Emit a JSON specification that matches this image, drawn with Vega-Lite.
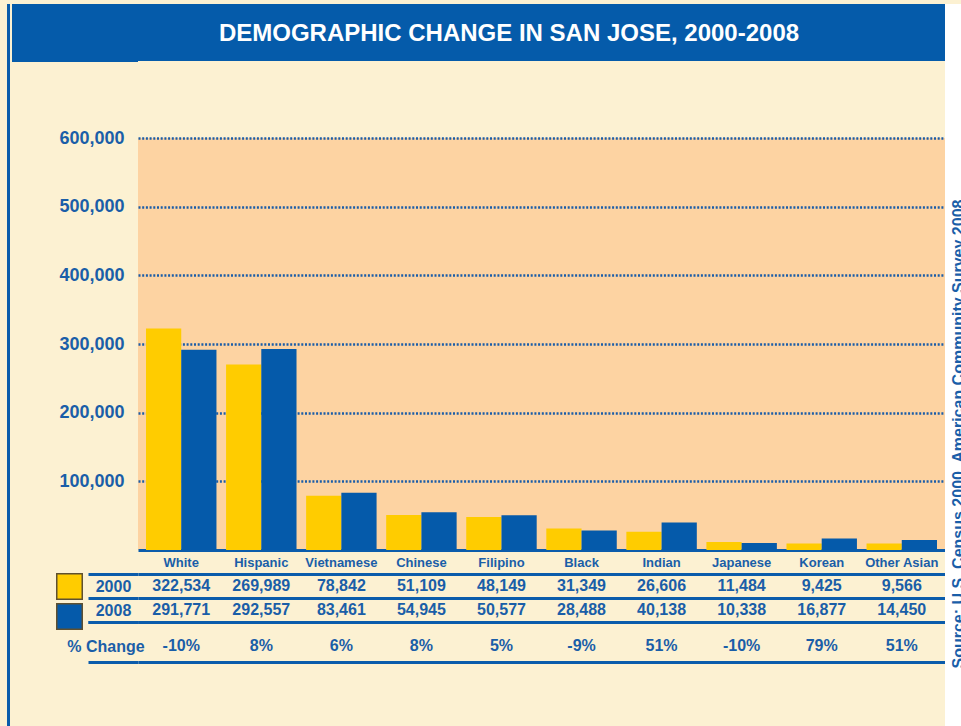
{
  "$schema": "https://vega.github.io/schema/vega-lite/v6.json",
  "background": "#FCF1D2",
  "padding": {"left": 7, "top": 4, "right": 0, "bottom": 0},
  "config": {"font": "Liberation Sans", "view": {"stroke": null}},
  "datasets": {
    "pop": [
      {"category": "White", "year": "2000", "value": 322534},
      {"category": "White", "year": "2008", "value": 291771},
      {"category": "Hispanic", "year": "2000", "value": 269989},
      {"category": "Hispanic", "year": "2008", "value": 292557},
      {"category": "Vietnamese", "year": "2000", "value": 78842},
      {"category": "Vietnamese", "year": "2008", "value": 83461},
      {"category": "Chinese", "year": "2000", "value": 51109},
      {"category": "Chinese", "year": "2008", "value": 54945},
      {"category": "Filipino", "year": "2000", "value": 48149},
      {"category": "Filipino", "year": "2008", "value": 50577},
      {"category": "Black", "year": "2000", "value": 31349},
      {"category": "Black", "year": "2008", "value": 28488},
      {"category": "Indian", "year": "2000", "value": 26606},
      {"category": "Indian", "year": "2008", "value": 40138},
      {"category": "Japanese", "year": "2000", "value": 11484},
      {"category": "Japanese", "year": "2008", "value": 10338},
      {"category": "Korean", "year": "2000", "value": 9425},
      {"category": "Korean", "year": "2008", "value": 16877},
      {"category": "Other Asian", "year": "2000", "value": 9566},
      {"category": "Other Asian", "year": "2008", "value": 14450}
    ],
    "chg": [
      {"category": "White", "pct": "-10%"},
      {"category": "Hispanic", "pct": "8%"},
      {"category": "Vietnamese", "pct": "6%"},
      {"category": "Chinese", "pct": "8%"},
      {"category": "Filipino", "pct": "5%"},
      {"category": "Black", "pct": "-9%"},
      {"category": "Indian", "pct": "51%"},
      {"category": "Japanese", "pct": "-10%"},
      {"category": "Korean", "pct": "79%"},
      {"category": "Other Asian", "pct": "51%"}
    ],
    "title": [{"t": "DEMOGRAPHIC CHANGE IN SAN JOSE, 2000-2008"}],
    "source": [{"s": "Source: U.S. Census 2000, American Community Survey 2008"}]
  },
  "spacing": 0,
  "hconcat": [
    {
      "width": 3,
      "height": 722,
      "view": {"fill": "#0A5CAA", "stroke": null},
      "data": {"values": [{"e": ""}]},
      "mark": {"type": "text"},
      "encoding": {"text": {"field": "e"}}
    },
    {
      "spacing": 67,
      "vconcat": [
        {
          "width": 807,
          "height": 57,
          "view": {"fill": "#055BAA", "stroke": null},
          "data": {"name": "title"},
          "mark": {"type": "text", "color": "white", "fontSize": 24, "fontWeight": "bold", "dx": -32.5, "dy": 1},
          "encoding": {
            "text": {"field": "t"},
            "y": {
              "field": "t", "type": "nominal",
              "scale": {"type": "point", "padding": 0.5, "domain": ["a1", "a2", "a3", "a4", "a5", "a6", "a7", "a8", "a9", "DEMOGRAPHIC CHANGE IN SAN JOSE, 2000-2008", "b1", "b2", "b3", "b4", "b5", "b6", "b7", "b8", "b9"]},
              "axis": {"title": null, "labels": false, "domain": false, "grid": false, "ticks": true, "tickSize": 126, "tickWidth": 4, "tickCap": "butt", "translate": 0, "tickColor": "#055BAA", "minExtent": 128, "maxExtent": 128}
            }
          }
        },
        {
          "spacing": 24,
          "bounds": "flush",
          "vconcat": [
            {
              "width": 807,
              "height": 412,
              "view": {"fill": "#FDD3A2", "stroke": null},
              "data": {"name": "pop"},
              "mark": {"type": "bar"},
              "encoding": {
                "x": {
                  "field": "category", "type": "nominal", "sort": null,
                  "scale": {"type": "band", "paddingInner": 0.12, "paddingOuter": 0.1},
                  "axis": {"title": null, "labelAngle": 0, "ticks": false, "domain": true, "domainColor": "#0B5CAB", "domainWidth": 3, "labelFontSize": 13, "labelFontWeight": "bold", "labelColor": "#1A5EA8", "labelPadding": 6, "labelOverlap": false}
                },
                "xOffset": {"field": "year", "type": "nominal", "scale": {"paddingInner": 0, "paddingOuter": 0}},
                "y": {
                  "field": "value", "type": "quantitative",
                  "scale": {"domain": [0, 600000], "nice": false},
                  "axis": {"title": null, "values": [100000, 200000, 300000, 400000, 500000, 600000], "format": ",.0f", "grid": true, "gridColor": "#1B5DA8", "gridDash": [2, 1.7], "gridWidth": 2.5, "domain": false, "ticks": false, "labelFontSize": 18, "labelFontWeight": "bold", "labelColor": "#1A5EA8", "labelPadding": 14, "labelFlush": false, "minExtent": 128, "maxExtent": 128}
                },
                "color": {
                  "field": "year", "type": "nominal",
                  "scale": {"domain": ["2000", "2008"], "range": ["#FFCC00", "#055AAA"]},
                  "legend": {
                    "orient": "none", "legendX": 49, "legendY": 569, "title": null,
                    "symbolType": "square", "symbolSize": 650, "rowPadding": -3.5,
                    "labelExpr": "''", "padding": 0, "symbolOffset": 0, "labelOffset": 0,
                    "encode": {"symbols": {"update": {"stroke": {"value": "#5E5030"}, "strokeWidth": {"value": 1.5}, "opacity": {"value": 1}}}}
                  }
                }
              }
            },
            {
              "spacing": 0,
              "bounds": "flush",
              "vconcat": [
                {
                  "width": 807,
                  "height": 48,
                  "data": {"name": "pop"},
                  "mark": {"type": "text", "fontSize": 16, "fontWeight": "bold", "color": "#1A5EA8"},
                  "encoding": {
                    "x": {"field": "category", "type": "nominal", "sort": null, "scale": {"type": "band", "paddingInner": 0.12, "paddingOuter": 0.1}, "axis": null},
                    "y": {
                      "field": "year", "type": "nominal",
                      "scale": {"type": "band", "domain": ["2000", "2008"], "paddingInner": 0, "paddingOuter": 0},
                      "axis": {"title": null, "domain": false, "tickBand": "extent", "ticks": true, "tickSize": 50, "tickWidth": 3, "tickColor": "#0B5CAB", "grid": true, "gridColor": "#0B5CAB", "gridWidth": 3, "labelAlign": "center", "labelBaseline": "middle", "labelFontSize": 16, "labelFontWeight": "bold", "labelColor": "#1A5EA8", "labelPadding": -25}
                    },
                    "text": {"field": "value", "type": "quantitative", "format": ","}
                  }
                },
                {
                  "width": 807,
                  "height": 40,
                  "data": {"name": "chg"},
                  "mark": {"type": "text", "fontSize": 16, "fontWeight": "bold", "color": "#1A5EA8", "dy": 4},
                  "encoding": {
                    "x": {"field": "category", "type": "nominal", "sort": null, "scale": {"type": "band", "paddingInner": 0.12, "paddingOuter": 0.1}, "axis": null},
                    "y": {
                      "datum": "% Change", "type": "nominal",
                      "scale": {"type": "band", "paddingInner": 0, "paddingOuter": 0},
                      "axis": {"title": null, "domain": false, "tickBand": "extent", "ticks": true, "tickSize": 50, "tickWidth": 3, "tickColor": "#0B5CAB", "grid": true, "gridColor": "#0B5CAB", "gridWidth": 3, "labelAlign": "center", "labelBaseline": "middle", "labelFontSize": 16, "labelFontWeight": "bold", "labelColor": "#1A5EA8", "labelPadding": -17.5, "labelOffset": 4}
                    },
                    "text": {"field": "pct"}
                  }
                }
              ]
            }
          ]
        }
      ]
    },
    {
      "width": 16,
      "height": 722,
      "view": {"fill": "#FFFFFF", "stroke": null},
      "data": {"name": "source"},
      "mark": {"type": "text", "angle": 270, "fontSize": 16, "fontWeight": "bold", "color": "#1A5EA8", "align": "center", "baseline": "alphabetic", "dx": -69, "dy": 10.5, "clip": true},
      "encoding": {"text": {"field": "s"}}
    }
  ]
}
